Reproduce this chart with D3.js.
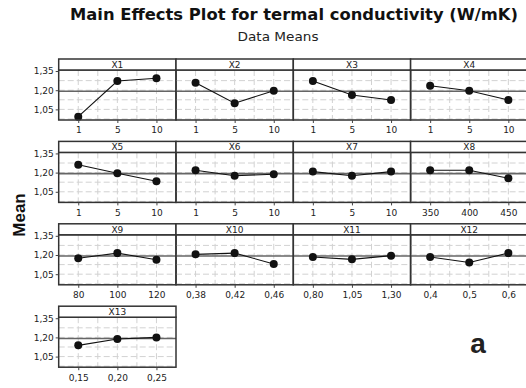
<!DOCTYPE html>
<html>
<head>
<meta charset="utf-8">
<script src="https://cdn.jsdelivr.net/npm/d3@7/dist/d3.min.js"></script>
<style>
  html, body { margin: 0; padding: 0; background: #fff; }
  svg { display: block; }
</style>
</head>
<body>
<script>
// ---- data ----
const factors = ["X1","X2","X3","X4","X5","X6","X7","X8","X9","X10","X11","X12","X13"];
const levelLabels = [
  ["1","5","10"], ["1","5","10"], ["1","5","10"], ["1","5","10"],
  ["1","5","10"], ["1","5","10"], ["1","5","10"], ["350","400","450"],
  ["80","100","120"], ["0,38","0,42","0,46"], ["0,80","1,05","1,30"],
  ["0,4","0,5","0,6"], ["0,15","0,20","0,25"]
];
const means = [
  [0.993, 1.272, 1.293],
  [1.259, 1.098, 1.196],
  [1.272, 1.162, 1.123],
  [1.235, 1.196, 1.123],
  [1.261, 1.195, 1.132],
  [1.219, 1.176, 1.187],
  [1.208, 1.176, 1.208],
  [1.219, 1.219, 1.156],
  [1.174, 1.215, 1.163],
  [1.205, 1.215, 1.130],
  [1.184, 1.166, 1.195],
  [1.184, 1.142, 1.215],
  [1.138, 1.188, 1.200]
];
const grandMean = 1.192;
const yTicks = [1.05, 1.20, 1.35];
const yGrid = [0.975, 1.05, 1.125, 1.20, 1.275];
const yDomain = [0.967, 1.358];

// ---- layout ----
const W = 526, H = 388;
const left = 58.7, panelW = 117.3;
const rowTop0 = 59, rowPitch = 82.4, stripH = 11, plotH = 50;
const cols = 4;

const svg = d3.select("body").append("svg")
  .attr("width", W).attr("height", H)
  .style("font-family", "'DejaVu Sans', Verdana, sans-serif");

// titles
svg.append("text")
  .attr("x", 294).attr("y", 20)
  .attr("text-anchor", "middle")
  .attr("font-weight", "bold").attr("font-size", 15)
  .attr("textLength", 448).attr("lengthAdjust", "spacingAndGlyphs")
  .attr("fill", "#111")
  .text("Main Effects Plot for termal conductivity (W/mK)");
svg.append("text")
  .attr("x", 278).attr("y", 40.5)
  .attr("text-anchor", "middle")
  .attr("font-size", 12.5)
  .attr("textLength", 81).attr("lengthAdjust", "spacingAndGlyphs")
  .attr("fill", "#222")
  .text("Data Means");

// Y axis title
svg.append("text")
  .attr("transform", "translate(25,215) rotate(-90)")
  .attr("text-anchor", "middle")
  .attr("font-family", "'Liberation Sans', Arial, sans-serif")
  .attr("font-weight", "bold").attr("font-size", 17)
  .attr("fill", "#111")
  .text("Mean");

// panel letter
svg.append("text")
  .attr("x", 478).attr("y", 353)
  .attr("text-anchor", "middle")
  .attr("font-family", "'Liberation Sans', Arial, sans-serif")
  .attr("font-weight", "bold").attr("font-size", 28)
  .attr("fill", "#222")
  .text("a");

const fmtY = d => d3.format(".2f")(d).replace(".", ",");

factors.forEach((name, i) => {
  const r = Math.floor(i / cols), c = i % cols;
  const x0 = left + c * panelW;
  const top = rowTop0 + r * rowPitch;
  const plotTop = top + stripH;
  const g = svg.append("g").attr("transform", `translate(${x0},${plotTop})`);

  const x = d3.scalePoint().domain(levelLabels[i]).range([0, panelW]).padding(0.5);
  const y = d3.scaleLinear().domain(yDomain).range([plotH, 0]);

  // grid (dashed)
  const lv = levelLabels[i];
  const vPos = [];
  lv.forEach((l, k) => {
    vPos.push(x(l));
    if (k < lv.length - 1) vPos.push((x(l) + x(lv[k + 1])) / 2);
  });
  g.selectAll(".vg").data(vPos).join("line")
    .attr("x1", d => d).attr("x2", d => d)
    .attr("y1", 0).attr("y2", plotH)
    .attr("stroke", "#d2d2d2").attr("stroke-width", 1)
    .attr("stroke-dasharray", "6,3");
  g.selectAll(".hg").data(yGrid).join("line")
    .attr("x1", 0).attr("x2", panelW)
    .attr("y1", d => y(d)).attr("y2", d => y(d))
    .attr("stroke", "#d2d2d2").attr("stroke-width", 1)
    .attr("stroke-dasharray", "6,3");

  // grand mean reference line
  g.append("line")
    .attr("x1", 0).attr("x2", panelW)
    .attr("y1", y(grandMean)).attr("y2", y(grandMean))
    .attr("stroke", "#666").attr("stroke-width", 1.6);

  // data line + points
  const pts = lv.map((l, k) => ({ l, v: means[i][k] }));
  g.append("path")
    .datum(pts)
    .attr("fill", "none").attr("stroke", "#111").attr("stroke-width", 1.1)
    .attr("d", d3.line().x(d => x(d.l)).y(d => y(d.v)));
  g.selectAll(".pt").data(pts).join("circle")
    .attr("cx", d => x(d.l)).attr("cy", d => y(d.v))
    .attr("r", 4).attr("fill", "#111");

  // panel border
  g.append("rect")
    .attr("x", 0).attr("y", 0).attr("width", panelW).attr("height", plotH)
    .attr("fill", "none").attr("stroke", "#333").attr("stroke-width", 1.5);

  // strip
  const s = svg.append("g").attr("transform", `translate(${x0},${top})`);
  s.append("rect")
    .attr("x", 0).attr("y", 0).attr("width", panelW).attr("height", stripH)
    .attr("fill", "#fff").attr("stroke", "#333").attr("stroke-width", 1.5);
  s.append("text")
    .attr("x", panelW / 2).attr("y", stripH / 2 + 3.3)
    .attr("text-anchor", "middle").attr("font-size", 9)
    .attr("fill", "#222").text(name);

  // bottom axis
  const ax = g.append("g").attr("transform", `translate(0,${plotH})`)
    .call(d3.axisBottom(x).tickSize(3).tickPadding(4));
  ax.select(".domain").remove();
  ax.selectAll("line").attr("stroke", "#444");
  ax.selectAll("text").attr("font-size", 9).attr("fill", "#222")
    .attr("font-family", "'DejaVu Sans', Verdana, sans-serif");

  // left axis for first column
  if (c === 0) {
    const ay = g.append("g")
      .call(d3.axisLeft(y).tickValues(yTicks).tickFormat(fmtY).tickSize(3).tickPadding(2));
    ay.select(".domain").remove();
    ay.selectAll("line").attr("stroke", "#444");
    ay.selectAll("text").attr("font-size", 9).attr("fill", "#222")
      .attr("font-family", "'DejaVu Sans', Verdana, sans-serif");
  }
});
</script>
</body>
</html>
